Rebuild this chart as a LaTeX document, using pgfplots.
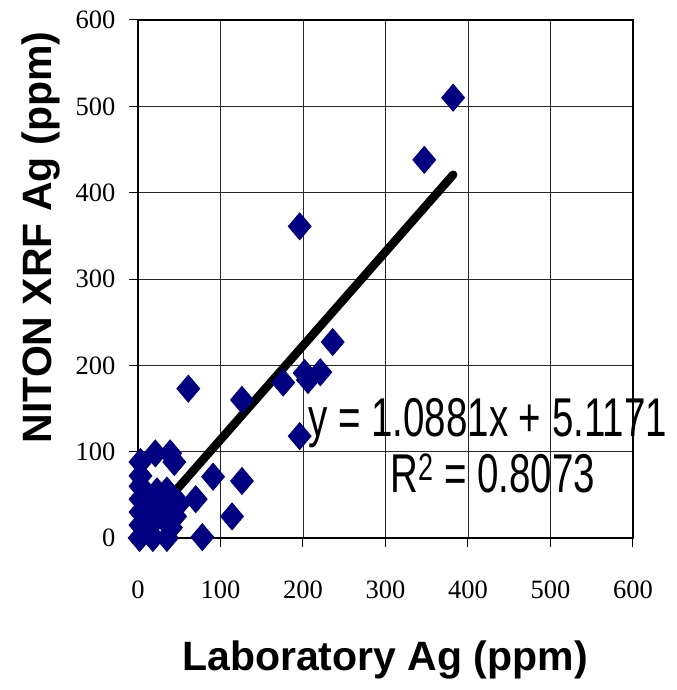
\documentclass[border=0pt]{standalone}
\usepackage{graphicx}
\usepackage{pgfplots}
\pgfplotsset{compat=1.18}
\usepackage{fontspec}
\setmainfont{Liberation Serif}
\newfontfamily\arialfont{Liberation Sans}
\definecolor{navy}{RGB}{0,0,128}
\begin{document}
\begin{tikzpicture}
\begin{axis}[
  scale only axis,
  width=495bp, height=518bp,
  xmin=0, xmax=600, ymin=0, ymax=600,
  xtick={0,100,...,600}, ytick={0,100,...,600},
  xticklabels={0,100,200,300,400,500,600},
  yticklabels={0,100,200,300,400,500,600},
  tick pos=left, tick align=outside,
  major tick length=9bp,
  grid=major,
  major grid style={black!85, line width=0.9bp},
  axis line style={line width=1.3bp},
  tick style={black, line width=1bp},
  every tick label/.append style={font=\fontsize{26.5bp}{30bp}\selectfont},
  xticklabel style={yshift=-30bp},
  yticklabel style={xshift=-10bp},
  clip=false,
]
\addplot[only marks, mark=diamond*, mark size=13.5bp,
  mark options={fill=navy, draw=navy, xscale=1.13, line width=0.8bp}]
coordinates {
(382,510) (347,438) (196,361) (61,173) (126,160) (176,180)
(202,191) (206,183) (221,192) (236,227) (196,118)
(91,71) (126,66) (70,45) (114,25) (78,1)
(21,98) (39,98) (44,88) (3,88)
(3,72) (3,60) (3,45) (3,30) (3,15) (2,0)
(23,54) (35,55) (15,45) (40,42) (50,40) (28,30) (45,25) (20,20)
(12,8) (40,12) (18,0) (35,0)
};
\addplot[black, line width=8.5bp, line cap=round] coordinates {(4,9.47) (382,420.77)};
\end{axis}
\node[anchor=base, font=\arialfont\bfseries\fontsize{41bp}{48bp}\selectfont] at (247bp,-132bp) {Laboratory Ag (ppm)};
\node[rotate=90, anchor=base, font=\arialfont\bfseries\fontsize{41bp}{48bp}\selectfont] at (-86bp,300.5bp) {NITON XRF Ag (ppm)};
\node[anchor=base west, inner sep=0pt] at (170bp,101bp) {\scalebox{1}[1.42]{\arialfont\fontsize{38.5bp}{42bp}\selectfont y = 1.0881x + 5.1171}};
\node[anchor=base west, inner sep=0pt] at (252bp,45bp) {\scalebox{1}[1.42]{\arialfont\fontsize{38.5bp}{42bp}\selectfont R\textsuperscript{2} = 0.8073}};
\pgfresetboundingbox
\path (-138bp,-152bp) rectangle (539bp,538bp);
\end{tikzpicture}
\end{document}
